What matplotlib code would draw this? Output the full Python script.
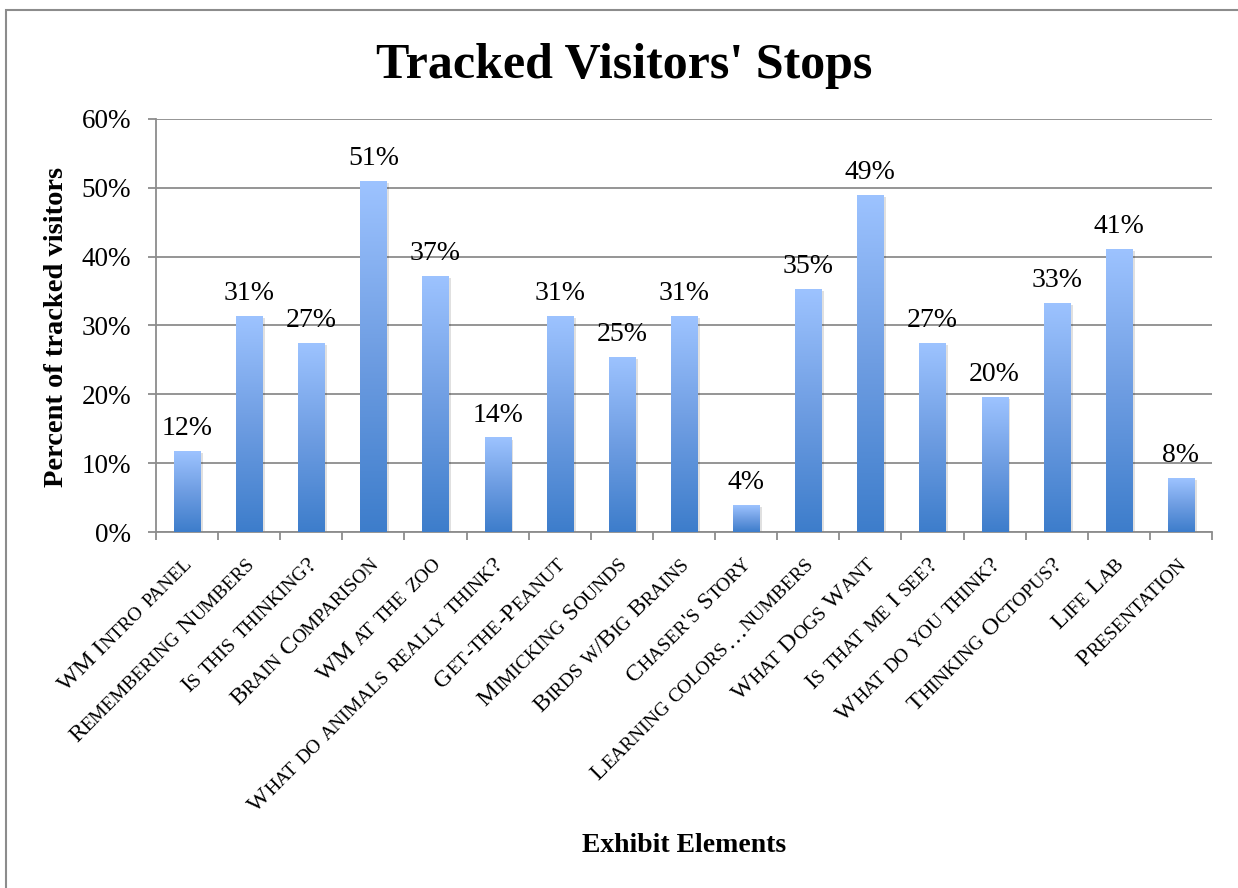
import matplotlib
matplotlib.use("Agg")
import matplotlib.pyplot as plt
import numpy as np
from matplotlib.colors import LinearSegmentedColormap
from matplotlib.font_manager import FontProperties
from matplotlib.patches import Rectangle
import matplotlib.patheffects as pe

SERIF = "Liberation Serif"

categories = [
    "WM Intro panel", "Remembering Numbers", "Is this thinking?",
    "Brain Comparison", "WM at the zoo", "What do animals really think?",
    "Get-the-Peanut", "Mimicking Sounds", "Birds w/Big Brains",
    "Chaser's Story", "Learning colors\u2026numbers", "What Dogs Want",
    "Is that me I see?", "What do you think?", "Thinking Octopus?",
    "Life Lab", "Presentation",
]
# share of tracked visitors who stopped at each element (percent)
values = [11.76, 31.37, 27.45, 50.98, 37.25, 13.73, 31.37, 25.49, 31.37,
          3.92, 35.29, 49.02, 27.45, 19.61, 33.33, 41.18, 7.84]
yticks = [0, 10, 20, 30, 40, 50, 60]

title = "Tracked Visitors' Stops"
ylabel = "Percent of tracked visitors"
xlabel = "Exhibit Elements"

W, H = 1238, 888
GRID = "#8c8c8c"

fig = plt.figure(figsize=(W / 100, H / 100), dpi=100)
ax = fig.add_axes([156 / W, 1 - 532 / H, 1056 / W, 413 / H])

x = np.arange(len(categories))
bars = ax.bar(x, values, width=0.42, color="#3F7FCE", zorder=2,
              path_effects=[pe.SimplePatchShadow(offset=(2.0, -1.5), shadow_rgbFace="k", alpha=0.12),
                            pe.Normal()])

# vertical gradient fill inside every bar: dark at the base, light at the top
cmap = LinearSegmentedColormap.from_list(
    "barfill", [(0.0, "#3D7DCB"), (0.5, "#6E9DE2"), (1.0, "#9DC3FF")])
grad = np.linspace(0, 1, 256).reshape(-1, 1)
for b in bars:
    x0, w, h = b.get_x(), b.get_width(), b.get_height()
    im = ax.imshow(grad, extent=[x0, x0 + w, 0, h], origin="lower", cmap=cmap,
                   aspect="auto", zorder=3, interpolation="bilinear")
    im.set_clip_path(b)

ax.set_xlim(-0.5, len(categories) - 0.5)
ax.set_ylim(yticks[0], yticks[-1])

ax.set_yticks(yticks)
ax.set_yticklabels([f"{t}%" for t in yticks], fontsize=19.5, family=SERIF)
ax.yaxis.grid(True, color=GRID, lw=1.3)
ax.set_axisbelow(True)
ax.tick_params(axis="y", length=6, width=1.3, color=GRID, pad=12)

ax.set_xticks(np.arange(-0.5, len(categories), 1))
ax.set_xticklabels([])
ax.tick_params(axis="x", length=6, width=1.3, color=GRID, direction="out")

for s in ("top", "right"):
    ax.spines[s].set_visible(False)
for s in ("left", "bottom"):
    ax.spines[s].set_color(GRID)
    ax.spines[s].set_linewidth(1.3)

# value labels above the bars
for xi, v in zip(x, values):
    ax.annotate(f"{round(v)}%", (xi, v), xytext=(0, 11.5), textcoords="offset points",
                ha="center", va="baseline", fontsize=20, family=SERIF)

# rotated small-caps category labels
renderer = fig.canvas.get_renderer()
BIG, SMALL = 17.5, 14


def text_w(s, size):
    fp = FontProperties(family=SERIF, size=size)
    w1 = renderer.get_text_width_height_descent("H" + s + "H", fp, ismath=False)[0]
    w0 = renderer.get_text_width_height_descent("HH", fp, ismath=False)[0]
    return w1 - w0


def small_caps_runs(s):
    runs = []
    for ch in s:
        small = ch.islower()
        piece = ch.upper() if small else ch
        if runs and runs[-1][1] == small:
            runs[-1][0] += piece
        else:
            runs.append([piece, small])
    return [(t, SMALL if sm else BIG) for t, sm in runs]


u = np.array([np.cos(np.pi / 4), np.sin(np.pi / 4)])
for xi, label in zip(x, categories):
    runs = small_caps_runs(label)
    widths = [text_w(t, sz) for t, sz in runs]
    end = ax.transData.transform((xi, 0)) + np.array([6, -33])
    start = end - sum(widths) * u
    cum = 0.0
    for (t, sz), wd in zip(runs, widths):
        p = fig.transFigure.inverted().transform(start + cum * u)
        fig.text(p[0], p[1], t, rotation=45, rotation_mode="anchor",
                 ha="left", va="baseline", fontsize=sz, family=SERIF)
        cum += wd

fig.text(624 / W, 1 - 78 / H, title, ha="center", va="baseline",
         fontsize=36, weight="bold", family=SERIF)
fig.text(57 / W, 1 - 327 / H, ylabel, rotation=90, ha="center", va="center",
         fontsize=20.5, weight="bold", family=SERIF)
fig.text(684 / W, 1 - 845 / H, xlabel, ha="center", va="center",
         fontsize=20, weight="bold", family=SERIF)

# chart frame
fig.patches.append(Rectangle((6 / W, -0.1), 1.2, 1.1 - 10 / H, transform=fig.transFigure,
                             fill=False, ec=GRID, lw=1.5))

fig.savefig("out.png", dpi=100)
